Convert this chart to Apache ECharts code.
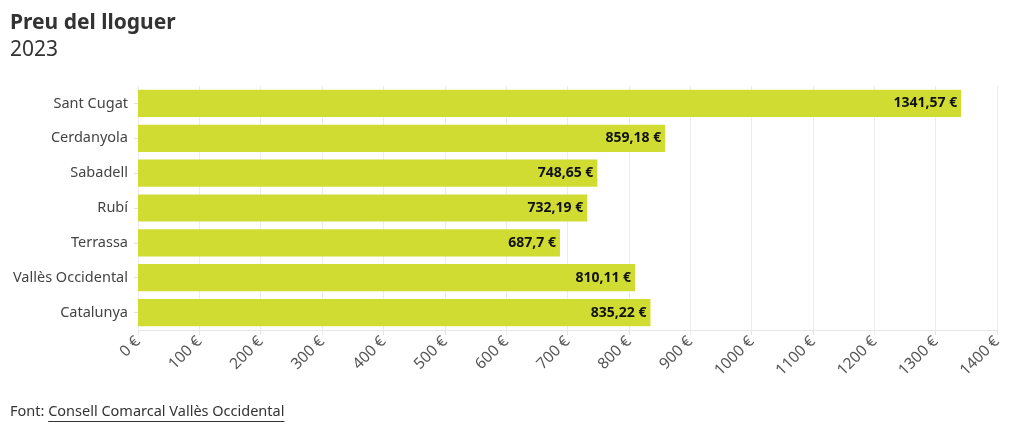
<!DOCTYPE html>
<html><head><meta charset="utf-8">
<script src="https://cdn.jsdelivr.net/npm/echarts@6/dist/echarts.min.js"></script>
<style>html,body{margin:0;padding:0;background:#fff}#c{width:1020px;height:434px}</style>
</head><body><div id="c"></div>
<script>
const categories = ["Sant Cugat","Cerdanyola","Sabadell","Rubí","Terrassa","Vallès Occidental","Catalunya"];
const values = [1341.57, 859.18, 748.65, 732.19, 687.7, 810.11, 835.22];
const titleText = "Preu del lloguer";
const subtitleText = "2023";
const sourceLabel = "Font: ";
const sourceName = "Consell Comarcal Vallès Occidental";

const font = "'Noto Sans', 'Open Sans', sans-serif";
const srcSize = 14.5;
const cv = document.createElement('canvas').getContext('2d');
cv.font = srcSize + "px 'Noto Sans'";
const labelW = cv.measureText(sourceLabel).width;
const nameW = cv.measureText(sourceName).width;

const chart = echarts.init(document.getElementById('c'));
chart.setOption({
  animation: false,
  title: [
    {text: titleText, left: 5, top: 8, textStyle: {fontFamily: font, fontSize: 21, fontWeight: 'bold', color: '#333'}},
    {text: subtitleText, left: 5, top: 35, textStyle: {fontFamily: font, fontSize: 21, fontWeight: 'normal', color: '#333'}}
  ],
  grid: {left: 138, right: 23, top: 86, bottom: 104, containLabel: false},
  xAxis: {
    type: 'value', min: 0, max: 1400, interval: 100,
    axisLine: {show: true, lineStyle: {color: '#e6e6e6'}},
    axisTick: {show: true, length: 5, lineStyle: {color: '#e6e6e6'}},
    splitLine: {show: true, lineStyle: {color: '#ececec'}},
    axisLabel: {rotate: 45, formatter: v => v + ' €', color: '#555', fontFamily: font, fontSize: 15.5, margin: 9}
  },
  yAxis: {
    type: 'category', data: categories, inverse: true,
    axisLine: {show: false},
    axisTick: {show: true, length: 4, alignWithLabel: true, lineStyle: {color: '#e0e0e0'}},
    axisLabel: {color: '#444', fontFamily: font, fontSize: 14.5, margin: 10}
  },
  series: [{
    type: 'bar', data: values, barCategoryGap: '22%',
    itemStyle: {color: '#d1dc33'},
    label: {
      show: true, position: 'insideRight', distance: 4,
      formatter: p => String(p.value).replace('.', ',') + ' €',
      color: '#111', fontFamily: font, fontSize: 14, fontWeight: 'bold'
    }
  }],
  graphic: [
    {type: 'text', left: 10, top: 404, style: {text: sourceLabel, fontFamily: font, fontSize: srcSize, fill: '#333'}},
    {type: 'text', left: 10 + labelW, top: 404, style: {text: sourceName, fontFamily: font, fontSize: srcSize, fill: '#333'}},
    {type: 'rect', left: 10 + labelW, top: 421, shape: {width: nameW, height: 1}, style: {fill: '#333'}}
  ]
});
</script></body></html>
